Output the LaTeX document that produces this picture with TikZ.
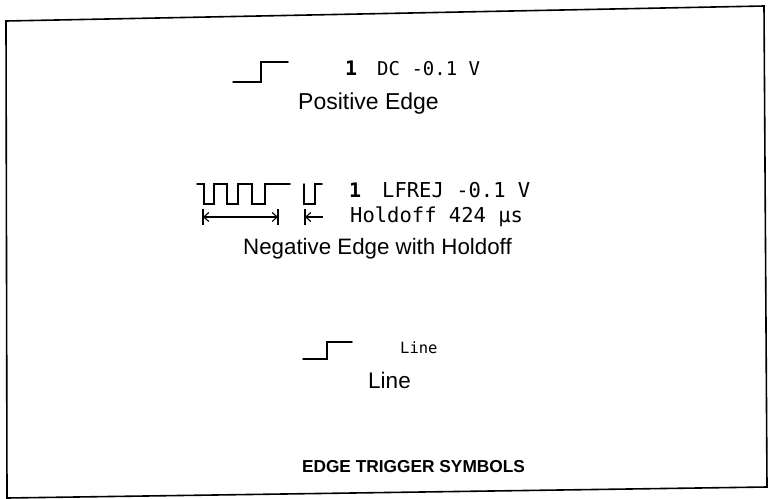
\documentclass[tikz,border=0pt]{standalone}
\usepackage{fontspec}
\setmainfont{Liberation Sans}
\newfontfamily\lcdfont{DejaVu Sans Mono}
\usetikzlibrary{arrows.meta}

\begin{document}
\begin{tikzpicture}[x=1pt, y=-1pt,
    wave/.style={line width=1.5pt, line cap=round, line join=miter},
    caption/.style={inner sep=0pt, anchor=base, font=\fontsize{22.5}{26}\selectfont},
    lcd/.style={inner sep=0pt, anchor=base west, font=\lcdfont\fontsize{20.5}{24}\selectfont},
    levelmark/.style={inner sep=0pt, anchor=base west, font=\lcdfont\bfseries\fontsize{20}{24}\selectfont},
    holdtick/.style={line width=1.1pt},
    holdspan/.style={line width=1.1pt, {Straight Barb[length=5pt,width=9pt]}-{Straight Barb[length=5pt,width=9pt]}}]
  \useasboundingbox (0,0) rectangle (768,498);

  % frame, slightly skewed like the scan
  \draw[line width=1.6pt] (6,21) -- (764,6) -- (767,487) -- (7,498) -- cycle;

  % positive edge
  \draw[wave] (233,82) -- (261,82) -- (261,62) -- (288,62);
  \node[levelmark] (posone) at (345,75) {1};
  \node[lcd, font=\lcdfont\fontsize{19}{23}\selectfont] (posdc) at (377,75) {DC -0.1 V};
  \node[caption, font=\fontsize{23}{27}\selectfont] (poslabel) at (368.5,109) {Positive Edge};

  % negative edge with holdoff
  \draw[wave] (197,184) -- (204,184) -- (204,204) -- (214,204) -- (214,184)
    -- (227,184) -- (227,204) -- (238,204) -- (238,184) -- (252,184)
    -- (252,204) -- (265,204) -- (265,184) -- (290,184);
  \draw[wave] (304,184) -- (304,204) -- (315,204) -- (315,184) -- (322,184);
  \node[levelmark] (negone) at (349,197) {1};
  \node[lcd] (neglfrej) at (382,197) {LFREJ -0.1 V};
  \node[lcd] (negholdoff) at (350,222) {Holdoff 424 µs};

  \coordinate (holdA) at (203,217);
  \coordinate (holdB) at (278,217);
  \coordinate (holdC) at (305,217);
  \coordinate (holdD) at (323,217);
  \draw[holdtick] ([yshift=-8pt]holdA) -- ([yshift=8pt]holdA);
  \draw[holdtick] ([yshift=-8pt]holdB) -- ([yshift=8pt]holdB);
  \draw[holdtick] ([yshift=-8pt]holdC) -- ([yshift=8pt]holdC);
  \draw[holdspan] (holdA) -- (holdB);
  \draw[holdtick, -{Straight Barb[length=5pt,width=9pt]}] (holdD) -- (holdC);
  \node[caption, font=\fontsize{22.3}{26}\selectfont] (neglabel) at (377.5,254) {Negative Edge with Holdoff};

  % line trigger
  \draw[wave] (303,359) -- (327,359) -- (327,342) -- (352,342);
  \node[lcd, font=\lcdfont\fontsize{15.5}{18}\selectfont] (linelcd) at (400,353) {Line};
  \node[caption] (linelabel) at (389.5,388) {Line};

  \node[caption, font=\bfseries\fontsize{17.3}{20}\selectfont] (title) at (413.5,472) {EDGE TRIGGER SYMBOLS};
\end{tikzpicture}
\end{document}
